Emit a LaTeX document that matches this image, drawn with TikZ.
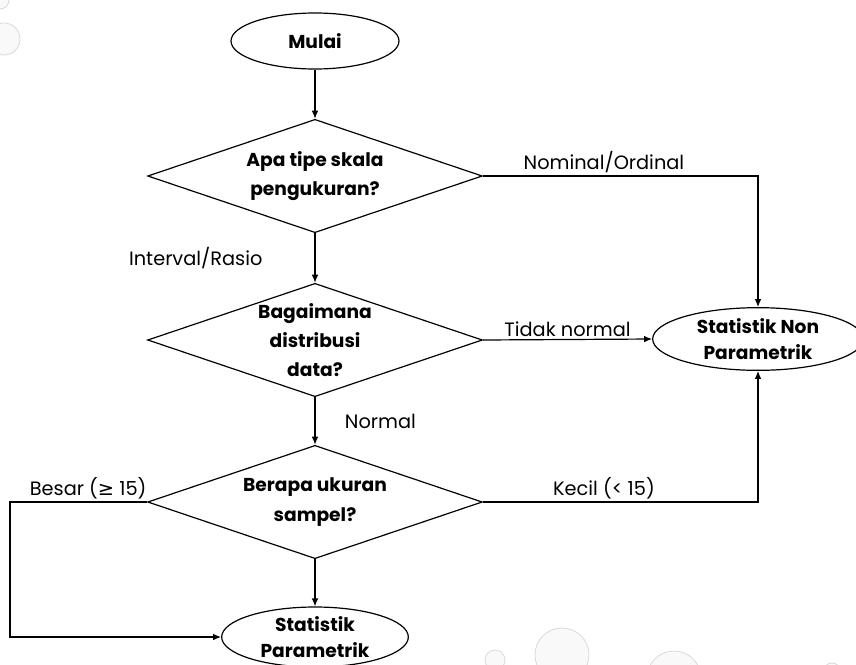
\documentclass[tikz,border=0pt]{standalone}
\usepackage{fontspec}
\setmainfont{Poppins}
\newfontfamily\symfont{DejaVu Sans}
\usetikzlibrary{shapes.geometric,arrows.meta}
\tikzset{>={Latex[length=6pt,width=5pt]}}
\tikzset{
  term/.style={ellipse,draw,line width=0.9pt,inner sep=0pt,align=center,
    font=\bfseries\fontsize{14}{19.5}\selectfont,minimum width=126pt,minimum height=42pt},
  decision/.style={diamond,draw,line width=0.9pt,inner sep=0pt,aspect=3,align=center,
    font=\bfseries\fontsize{14}{22}\selectfont,minimum width=251pt,minimum height=85pt},
  lbl/.style={font=\fontsize{14.5}{16}\selectfont,inner sep=2pt},
  flow/.style={->,line width=0.9pt},
  bubble/.style={draw=gray!30,fill=gray!5,line width=0.6pt}
}

\begin{document}
\begin{tikzpicture}[x=0.75pt,y=-0.75pt]
      \useasboundingbox (0,0) rectangle (856,664);
      % bubbles of the slide
      \foreach \x/\y/\r in {0/0/9,4/39/16,495/660/10,562/655/27,674/678/27,832/672/9}
        \draw[bubble] (\x,\y) circle [radius=\r];
      \node[term] (mulai) at (315,41) {Mulai};
      \node[decision] (skala) at (315,176) {Apa tipe skala\\pengukuran?};
      \node[decision] (distribusi) at (315,340) {Bagaimana\\distribusi\\data?};
      \node[decision] (sampel) at (315,502) {Berapa ukuran\\sampel?};
      \node[term,minimum width=140pt,minimum height=45pt] (param) at (315,637) {Statistik\\Parametrik};
      \node[term,minimum width=158pt,minimum height=47pt] (nonparam) at (758,339) {Statistik Non\\Parametrik};
      \coordinate (kiri) at (10,502);
      \draw[flow] (mulai) -- (skala);
      \draw[flow] (skala) -- node[lbl,left=37pt] (lrasio) {Interval/Rasio} (distribusi);
      \draw[flow] (distribusi) -- node[lbl,right=20pt] (lnormal) {Normal} (sampel);
      \draw[flow] (sampel) -- (param);
      \draw[flow] (skala.east) -| node[lbl,above,pos=0.22] (lnominal) {Nominal/Ordinal} (nonparam.north);
      \draw[flow] (distribusi.east) -- node[lbl,above] (ltidak) {Tidak normal} (nonparam.west);
      \draw[flow] (sampel.east) -| node[lbl,above,pos=0.22] (lkecil) {Kecil (< 15)} (nonparam.south);
      \draw[flow] (sampel.west) -- node[lbl,above,pos=0.43] (lbesar) {Besar ({\symfont ≥} 15)} (kiri) |- (param.west);
    \end{tikzpicture}
\end{document}
